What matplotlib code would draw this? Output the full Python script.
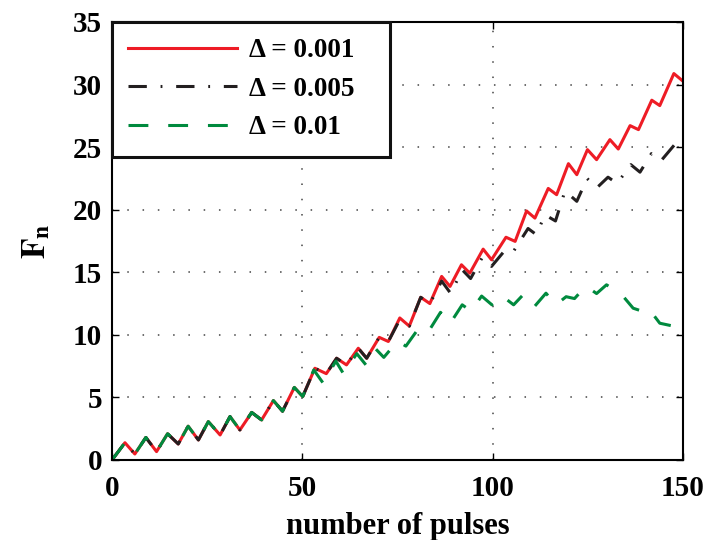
import matplotlib
matplotlib.use("Agg")
import matplotlib.pyplot as plt

# ---- data (peaks / troughs of each curve) ----
common_x = [0, 3.4, 6.0, 8.9, 11.7, 14.6, 17.4, 20.0, 22.7, 25.3, 28.4, 31.0, 33.6,
            36.7, 39.3, 42.4, 44.8, 47.9, 50.1]
common_y = [0, 1.38, 0.48, 1.8, 0.67, 2.1, 1.28, 2.7, 1.6, 3.07, 2.0, 3.47, 2.4,
            3.8, 3.2, 4.75, 3.9, 5.8, 5.07]

red_x = [53.3, 56.3, 59.0, 61.6, 64.7, 66.9, 70.2, 72.6, 75.6, 78.1, 81.1, 83.5,
         86.6, 88.8, 91.8, 94.0, 97.5, 99.7, 103.5, 105.9, 108.9, 111.1, 114.6,
         116.8, 119.9, 122.1, 124.9, 127.3, 130.8, 133.0, 136.1, 138.3, 141.8,
         143.9, 147.6, 150.0]
red_y = [7.33, 6.9, 8.13, 7.6, 8.93, 8.13, 9.8, 9.47, 11.35, 10.7, 13.0, 12.5,
         14.67, 13.87, 15.6, 14.93, 16.85, 16.0, 17.8, 17.47, 19.9, 19.33, 21.7,
         21.2, 23.68, 22.8, 24.8, 24.0, 25.6, 24.85, 26.72, 26.4, 28.75,
         28.32, 30.88, 30.27]

black_x = [53.3, 56.3, 59.0, 61.6, 64.7, 66.9, 70.2, 72.6, 75.4, 78.1, 81.1, 83.5,
           86.6, 89.0, 92.0, 94.2, 97.3, 99.7, 102.8, 105.0, 109.3, 111.5, 113.7,
           116.5, 119.0, 122.1, 124.8, 127.3, 130.3, 132.7, 136.3, 138.7, 141.7,
           144.2, 147.8, 150.0]
black_y = [7.33, 6.9, 8.13, 7.6, 8.93, 8.13, 9.8, 9.47, 11.1, 10.7, 13.0, 12.5,
           14.3, 13.3, 15.2, 14.5, 16.2, 15.47, 16.6, 16.45, 18.5, 18.0, 19.6,
           19.1, 21.5, 20.67, 22.5, 21.73, 22.6, 22.1, 23.6, 23.0, 24.48,
           23.9, 25.2, 25.3]

green_x = [53.0, 55.5, 58.8, 60.8, 64.3, 66.7, 69.2, 71.4, 75.0, 77.2, 80.5, 83.0,
           86.3, 88.8, 92.0, 94.3, 97.1, 99.8, 102.3, 105.5, 108.0, 110.8, 114.0,
           116.6, 119.3, 121.5, 124.5, 127.3, 129.9, 132.5, 134.3, 136.9, 138.7,
           140.9, 143.9, 147.9, 150.0]
green_y = [7.2, 6.13, 7.9, 6.9, 8.5, 7.6, 8.9, 8.2, 9.5, 9.1, 10.5, 10.2,
           11.8, 10.9, 12.4, 11.9, 13.1, 12.4, 13.15, 12.4, 13.2, 12.2, 13.33,
           12.4, 13.05, 12.9, 13.9, 13.3, 14.0, 13.5, 13.07, 12.13, 11.95,
           12.13, 10.93, 10.67, 10.67]

labels = ["\u0394 = 0.001", "\u0394 = 0.005", "\u0394 = 0.01"]
xticks = [0, 50, 100, 150]
yticks = [0, 5, 10, 15, 20, 25, 30, 35]

# ---- style ----
plt.rcParams['font.family'] = ['Liberation Serif', 'DejaVu Serif']
plt.rcParams['font.weight'] = 'bold'
plt.rcParams['mathtext.fontset'] = 'stix'

fig = plt.figure(figsize=(7.07, 5.40), dpi=100)
ax = fig.add_axes([112/707, 80/540, (683-112)/707, (460-22)/540])

lw = 2.2
kw = dict(lw=lw, solid_joinstyle='round', dash_joinstyle='round')
ax.plot(common_x + red_x, common_y + red_y, color='#ee1c25', label=labels[0], **kw)
ax.plot(common_x + black_x, common_y + black_y, color='#231f20',
        linestyle=(0, (6, 4.5, 0.6, 4.5)), label=labels[1], **kw)
ax.plot(common_x + green_x, common_y + green_y, color='#008a3e',
        linestyle=(0, (6.5, 6.5)), label=labels[2], **kw)

ax.set_xlim(0, 150)
ax.set_ylim(0, 35)
ax.set_xticks(xticks)
ax.set_yticks(yticks)
ax.tick_params(direction='in', length=5, width=1, top=True, right=True,
               labelsize=21)
ax.tick_params(axis='x', pad=11)
ax.tick_params(axis='y', pad=7)
for s in ax.spines.values():
    s.set_linewidth(1.5)

for yv in yticks[1:-1]:
    ax.axhline(yv, color='#444444', lw=1.1, linestyle=(0, (1, 9)), zorder=0)
for xv in xticks[1:-1]:
    ax.axvline(xv, color='#444444', lw=1.1, linestyle=(0, (1, 9)), zorder=0)

ax.set_xlabel('number of pulses', fontsize=22, fontweight='bold', labelpad=7)
ax.set_ylabel(r'$\mathbf{F_n}$', fontsize=24, labelpad=15)

leg = ax.legend(loc='upper left', bbox_to_anchor=(0, 0, (390-112)/571, 1),
                mode='expand', borderaxespad=0, fontsize=19.5, handlelength=4.0,
                labelspacing=0.5, handletextpad=0.45, borderpad=0.6,
                fancybox=False, framealpha=1, edgecolor='#111111')
leg.get_frame().set_linewidth(2.2)

fig.savefig('out.png', dpi=100)
